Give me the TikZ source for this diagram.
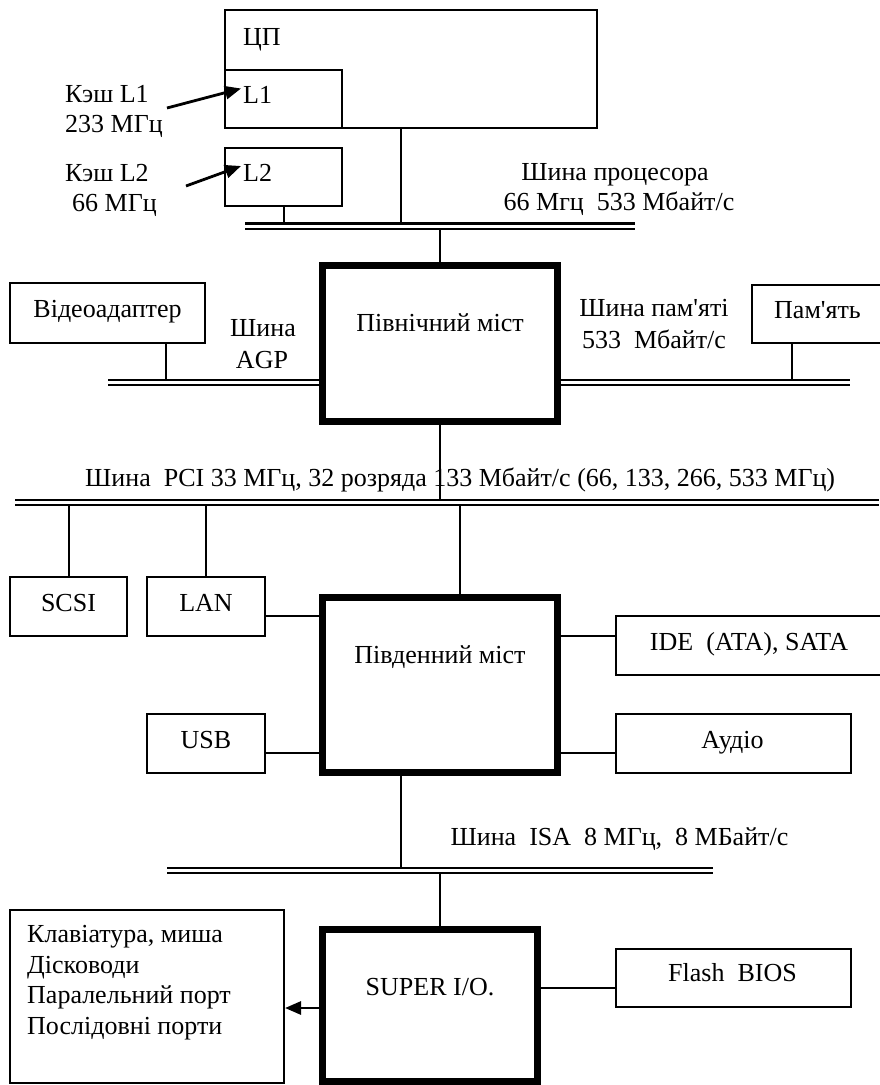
\documentclass[tikz,border=0pt]{standalone}
\usepackage{fontspec}
\setmainfont{Liberation Serif}
% plain family without TeX input mapping, so ' stays a straight apostrophe
\newfontfamily\plainserif{Liberation Serif}
\usetikzlibrary{arrows.meta,calc}
\begin{document}
\begin{tikzpicture}[x=1pt,y=-1pt,
  box/.style={draw,line width=2pt,inner sep=0pt},
  hub/.style={draw,line width=7pt,inner sep=0pt},
  txt/.style={inner sep=0pt,anchor=base,font=\fontsize{26}{30}\selectfont},
  ltxt/.style={txt,anchor=base west},
  bus/.style={double,line width=2.2pt,double distance=3pt},
  wire/.style={line width=2pt},
  thin/.style={line width=1.2pt},
  ptr/.style={line width=2.8pt,-{Triangle[length=16pt,width=13pt]}}
]
\useasboundingbox (0,0) rectangle (879,1085);

% ---- boxes ----
\node[box,minimum width=372pt,minimum height=118pt] (cpu) at (411,69) {};
\node[box,minimum width=117pt,minimum height=58pt] (l1) at (283.5,99) {};
\node[box,minimum width=117pt,minimum height=58pt] (l2) at (283.5,177) {};
\node[box,minimum width=195pt,minimum height=60pt] (video) at (107.5,313) {};
\node[box,minimum width=132pt,minimum height=58pt] (mem) at (818,314) {};
\node[hub,minimum width=234.5pt,minimum height=156pt] (nb) at (439.75,343) {};
\node[box,minimum width=117pt,minimum height=59pt] (scsi) at (68.5,606.5) {};
\node[box,minimum width=118pt,minimum height=59pt] (lan) at (206,606.5) {};
\node[hub,minimum width=235pt,minimum height=175.5pt] (sb) at (440,684.75) {};
\node[box,minimum width=268pt,minimum height=59pt] (ide) at (750,645.5) {};
\node[box,minimum width=118pt,minimum height=59pt] (usb) at (206,743.5) {};
\node[box,minimum width=235pt,minimum height=59pt] (audio) at (733.5,743.5) {};
\node[hub,minimum width=214.5pt,minimum height=152pt] (sio) at (429.75,1005.5) {};
\node[box,minimum width=235pt,minimum height=58pt] (flash) at (733.5,978) {};
\node[box,minimum width=274pt,minimum height=173pt] (periph) at (147,996.5) {};

% ---- texts ----
\node[ltxt] (tcpu) at (243,45) {ЦП};
\node[ltxt] (tl1) at (243,103) {L1};
\node[ltxt] (tl2) at (243,181) {L2};
\node[ltxt] (k1a) at (65,102.3) {Кэш L1};
\node[ltxt] (k1b) at (65,132.7) {233 МГц};
\node[ltxt] (k2a) at (65,181) {Кэш L2};
\node[ltxt] (k2b) at (72,211.7) {66 МГц};
\node[txt] (pba) at (615,180) {Шина процесора};
\node[txt] (pbb) at (619,210.7) {66 Мгц~ 533 Мбайт/с};
\node[txt] (tvideo) at (107.5,317) {Відеоадаптер};
\node[txt] (agpa) at (263,336.7) {Шина};
\node[txt] (agpb) at (262,368) {AGP};
\node[txt] (tnb) at (440,331) {Північний міст};
\node[txt] (mba) at (654,316) {\plainserif Шина пам'яті};
\node[txt] (mbb) at (654,348) {533~ Мбайт/с};
\node[txt] (tmem) at (817.5,318) {\plainserif Пам'ять};
\node[ltxt] (tpci) at (85,486.5) {Шина~ PCI 33 МГц, 32 розряда 133 Мбайт/с (66, 133, 266, 533 МГц)};
\node[txt] (tscsi) at (68.5,611.7) {SCSI};
\node[txt] (tlan) at (206,611.7) {LAN};
\node[txt] (tsb) at (440,663) {Південний міст};
\node[txt] (tide) at (749,650) {IDE~ (ATA), SATA};
\node[txt] (tusb) at (206,748) {USB};
\node[txt] (taudio) at (732.5,748) {Аудіо};
\node[txt] (tisa) at (619.5,845) {Шина~ ISA~ 8 МГц,~ 8 МБайт/с};
\node[txt] (tsio) at (430,995) {SUPER I/O.};
\node[txt] (tflash) at (732.5,981.7) {Flash~ BIOS};
\node[ltxt] (p1) at (27,942.7) {Клавіатура, миша};
\node[ltxt] (p2) at (27,973) {Дісководи};
\node[ltxt] (p3) at (27,1003) {Паралельний порт};
\node[ltxt] (p4) at (27,1034) {Послідовні порти};

% ---- cache arrows ----
\coordinate (k1src) at (167,108);
\coordinate (k2src) at (186,186);
\draw[ptr] (k1src) -- ($(l1.west)+(17,-10.5)$);
\draw[ptr] (k2src) -- ($(l2.west)+(17,-11)$);

% ---- bus end points ----
\coordinate (pbl) at (245,226);   \coordinate (pbr) at (635,226);
\coordinate (agpl) at (108,382.5);
\coordinate (mbr) at (850,382.5);
\coordinate (pcil) at (15,502.5); \coordinate (pcir) at (879,502.5);
\coordinate (isal) at (167,870.5); \coordinate (isar) at (713,870.5);

% ---- drops onto the buses ----
\draw[wire] (l2.south) -- (l2.south |- pbl);
\coordinate (cpud) at ([xshift=-10pt]cpu.south);
\draw[wire] (cpud) -- (cpud |- pbl);
\draw[wire] (nb.north) -- (nb.north |- pbl);
\coordinate (vidd) at ([xshift=58.5pt]video.south);
\draw[wire] (vidd) -- (vidd |- agpl);
\coordinate (memd) at ([xshift=-26pt]mem.south);
\draw[wire] (memd) -- (memd |- mbr);
\draw[wire] (nb.south) -- (nb.south |- pcil);
\draw[wire] (scsi.north) -- (scsi.north |- pcil);
\draw[wire] (lan.north) -- (lan.north |- pcil);
\coordinate (sbu) at ([xshift=20pt]sb.north);
\draw[wire] (sbu) -- (sbu |- pcil);
\coordinate (sbd) at ([xshift=-39pt]sb.south);
\draw[wire] (sbd) -- (sbd |- isal);
\coordinate (siou) at ([xshift=10.25pt]sio.north);
\draw[wire] (siou) -- (siou |- isal);

% ---- buses ----
\draw[bus] (pbl) -- (pbr);
\draw[bus] (agpl) -- (agpl -| nb.west);
\draw[bus] (nb.east |- mbr) -- (mbr);
\draw[bus] (pcil) -- (pcir);
\draw[bus] (isal) -- (isar);

% ---- south bridge and super I/O links ----
\coordinate (lanc) at ([yshift=-9.5pt]lan.east);
\draw[thin] (lanc) -- (lanc -| sb.west);
\coordinate (usbc) at ([yshift=-9.5pt]usb.east);
\draw[wire] (usbc) -- (usbc -| sb.west);
\coordinate (idec) at ([yshift=9.5pt]ide.west);
\draw[wire] (idec) -- (idec -| sb.east);
\coordinate (audc) at ([yshift=-9.5pt]audio.west);
\draw[wire] (audc) -- (audc -| sb.east);
\coordinate (flc) at ([yshift=-10pt]flash.west);
\draw[wire] (flc) -- (flc -| sio.east);
\coordinate (sioc) at ([yshift=-2.5pt]sio.west);
\draw[ptr] (sioc) -- (sioc -| periph.east);
\end{tikzpicture}
\end{document}
